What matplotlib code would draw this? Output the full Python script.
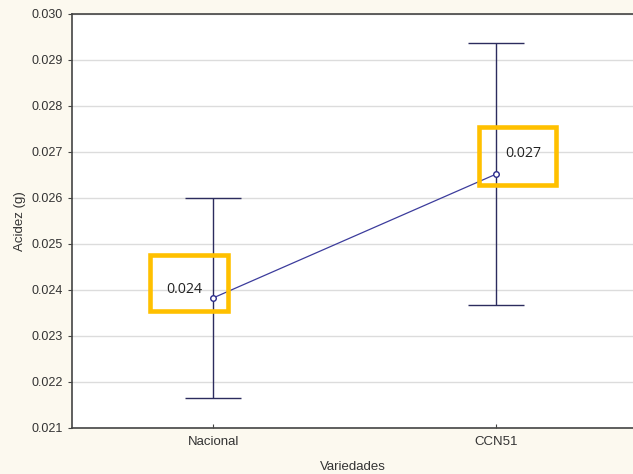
import matplotlib
matplotlib.use('Agg')
from matplotlib import pyplot as plt
from matplotlib import transforms
from matplotlib.patches import Rectangle
import numpy as np

variedades = ['Nacional', 'CCN51']
medias = [0.02383, 0.02652]
errores = [0.00217, 0.00285]
etiquetas = ['0.024', '0.027']
yticks = np.arange(0.021, 0.0301, 0.001)

plt.rcParams['font.family'] = ['Liberation Sans', 'DejaVu Sans']

fig = plt.figure(figsize=(6.33, 4.74), dpi=100, facecolor='#fcf9ef')
ax = fig.add_axes([72/633, 46/474, 561/633, 414/474])
ax.set_facecolor('white')

x = np.arange(len(variedades))
ax.errorbar(x, medias, yerr=errores, fmt='none', ecolor='#2c2c5e',
            elinewidth=1, capsize=20, capthick=1, zorder=3)
ax.plot(x, medias, color='#3c3c9c', linewidth=0.9, marker='o', markersize=4,
        markerfacecolor='white', markeredgecolor='#2a2a8c', markeredgewidth=1, zorder=4)

ax.set_xlim(-0.5, 1.484)
ax.set_ylim(0.021, 0.030)
ax.set_yticks(yticks)
ax.set_yticklabels([f'{t:.3f}' for t in yticks])
ax.set_xticks(x)
ax.set_xticklabels(variedades)
ax.grid(axis='y', color='#dcdcdc', linewidth=1)
ax.set_axisbelow(True)
ax.tick_params(axis='y', direction='out', length=3, labelsize=9, labelcolor='#333333', color='#444444')
ax.tick_params(axis='x', direction='in', length=3, labelsize=9.5, labelcolor='#333333', color='#444444', pad=6)
ax.set_ylabel('Acidez (g)', fontsize=9.5, color='#333333', labelpad=4)
ax.set_xlabel('Variedades', fontsize=9.5, color='#333333', labelpad=9)
for s in ['left', 'top', 'bottom']:
    ax.spines[s].set_color('#444444')
    ax.spines[s].set_linewidth(1.2)
ax.spines['right'].set_visible(False)

# yellow boxes around the value labels (offsets in pixels from the point)
cajas = [(-63, -13, 78, 56, -29, 8), (-17, -11, 77, 58, 27, 21)]
for xi, yi, lab, (bx, by, bw, bh, tx, ty) in zip(x, medias, etiquetas, cajas):
    tr = transforms.Affine2D().scale(1) + transforms.ScaledTranslation(xi, yi, ax.transData)
    ax.add_patch(Rectangle((bx, by), bw, bh, fill=False, edgecolor='#ffc000',
                           linewidth=3.3, transform=tr, clip_on=False, zorder=5))
    ax.annotate(lab, xy=(xi, yi), xytext=(tx, ty), textcoords='offset pixels',
                ha='center', va='center', fontsize=10.3, family=['Open Sans', 'DejaVu Sans'],
                color='#222222', zorder=6)

fig.savefig('out.png', dpi=100, facecolor=fig.get_facecolor())
